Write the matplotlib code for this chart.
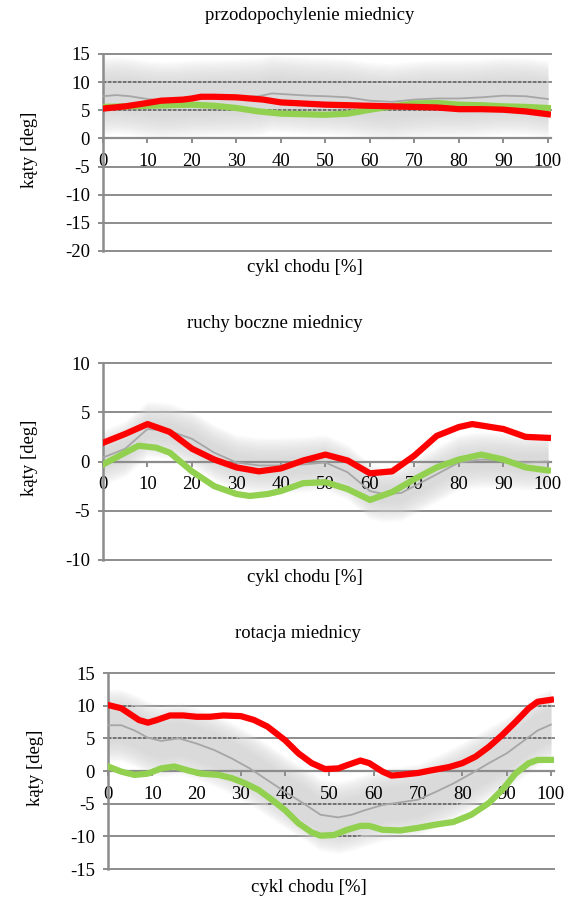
import numpy as np
import matplotlib
matplotlib.use("Agg")
import matplotlib.pyplot as plt
from matplotlib.path import Path

plt.rcParams['font.family'] = ['Liberation Serif', 'DejaVu Serif']
plt.rcParams['axes.unicode_minus'] = False

W, H = 584, 898

# panel 1 - przodopochylenie miednicy
p1_norm_x = [0, 3, 6, 10, 13, 17, 20, 25, 30, 35, 38, 42, 46, 50, 55, 60, 65, 70, 75, 80, 85, 90, 95, 100]
p1_norm = [7.5, 7.7, 7.5, 7.0, 6.8, 6.9, 7.1, 7.2, 7.3, 7.5, 8.0, 7.8, 7.6, 7.5, 7.3, 6.7, 6.5, 6.9, 7.1, 7.1, 7.3, 7.6, 7.5, 7.0]
p1_sd = 4.8
p1_red_x = [0, 5, 10, 13, 18, 20, 22, 25, 30, 33, 36, 40, 45, 50, 55, 60, 65, 70, 75, 80, 85, 90, 95, 100]
p1_red = [5.3, 5.7, 6.3, 6.7, 6.9, 7.1, 7.4, 7.4, 7.3, 7.1, 6.9, 6.4, 6.2, 6.0, 5.9, 5.8, 5.7, 5.6, 5.5, 5.2, 5.2, 5.1, 4.8, 4.3]
p1_green_x = [0, 10, 20, 25, 30, 35, 40, 45, 50, 55, 60, 65, 70, 75, 80, 85, 90, 95, 100]
p1_green = [5.6, 5.8, 6.0, 5.8, 5.4, 4.8, 4.4, 4.3, 4.2, 4.4, 5.1, 5.7, 6.2, 6.3, 6.0, 5.9, 5.7, 5.6, 5.4]

# panel 2 - ruchy boczne miednicy
p2_norm_x = [0, 5, 10, 15, 20, 25, 30, 35, 40, 45, 50, 55, 60, 63, 67, 70, 75, 80, 85, 90, 95, 100]
p2_norm = [0.4, 1.3, 3.3, 3.1, 2.3, 0.9, -0.1, -0.4, -0.4, -0.3, -0.1, -1.1, -3.0, -3.3, -3.2, -2.5, -1.3, -0.1, 0.2, 0.1, -0.1, 0.0]
p2_sd = 1.8
p2_red_x = [0, 5, 10, 15, 20, 25, 30, 35, 40, 45, 50, 55, 60, 65, 70, 75, 80, 83, 90, 95, 100]
p2_red = [1.9, 2.8, 3.8, 3.0, 1.3, 0.2, -0.6, -1.0, -0.7, 0.1, 0.7, 0.1, -1.2, -1.0, 0.6, 2.6, 3.5, 3.8, 3.3, 2.5, 2.4]
p2_green_x = [0, 5, 8, 12, 15, 20, 25, 30, 33, 37, 40, 45, 50, 55, 60, 65, 70, 75, 80, 85, 90, 95, 100]
p2_green = [-0.3, 0.9, 1.6, 1.4, 0.9, -1.0, -2.5, -3.3, -3.5, -3.3, -3.0, -2.2, -2.1, -2.8, -3.9, -3.1, -1.8, -0.6, 0.2, 0.7, 0.2, -0.6, -0.9]

# panel 3 - rotacja miednicy
p3_norm_x = [0, 3, 6, 9, 12, 16, 20, 24, 28, 32, 36, 40, 44, 48, 52, 55, 58, 62, 66, 70, 74, 78, 82, 86, 90, 94, 97, 100]
p3_norm = [7.0, 7.0, 6.2, 5.1, 4.6, 5.0, 4.2, 3.2, 1.9, 0.4, -1.4, -3.2, -4.9, -6.7, -7.1, -6.7, -6.0, -5.2, -4.8, -4.4, -3.2, -1.9, -0.4, 1.2, 2.7, 4.7, 6.2, 7.1]
p3_sd = 4.0
p3_red_x = [0, 3, 7, 9, 11, 14, 17, 20, 23, 26, 30, 33, 36, 40, 43, 46, 49, 52, 54, 57, 59, 62, 64, 66, 70, 73, 77, 80, 83, 86, 89, 92, 95, 97, 100]
p3_red = [10.1, 9.6, 7.8, 7.4, 7.8, 8.5, 8.5, 8.3, 8.3, 8.5, 8.4, 7.8, 6.8, 4.7, 2.7, 1.2, 0.3, 0.4, 0.9, 1.6, 1.2, -0.1, -0.7, -0.6, -0.3, 0.1, 0.6, 1.2, 2.2, 3.7, 5.5, 7.5, 9.6, 10.6, 10.9]
p3_green_x = [0, 3, 6, 9, 12, 15, 18, 21, 25, 28, 31, 34, 37, 40, 43, 46, 48, 51, 54, 57, 59, 62, 66, 70, 74, 78, 82, 86, 89, 92, 95, 97, 100]
p3_green = [0.7, -0.1, -0.6, -0.4, 0.4, 0.7, 0.1, -0.4, -0.6, -1.1, -1.9, -2.9, -4.4, -6.0, -8.0, -9.4, -9.9, -9.8, -9.0, -8.4, -8.4, -9.0, -9.1, -8.7, -8.2, -7.8, -6.7, -4.9, -2.9, -0.4, 1.2, 1.7, 1.7]

xticks = list(range(0, 101, 10))
grid_c = '#8c8c8c'
fs = 13.5


def band(ax, x, m, sd, fade):
    x = np.array(x, dtype=float)
    m = np.array(m, dtype=float)
    n = 12
    for k in range(n):
        e = sd - fade + 2 * fade * k / (n - 1)
        ax.fill_between(x, m - e, m + e, color='#d2d2d2', alpha=0.11, lw=0, zorder=1.5)
    core = sd - 0.2 * fade
    verts = np.concatenate([np.column_stack([x, m + core]),
                            np.column_stack([x[::-1], (m - core)[::-1]])])
    return Path(verts)


def panel(rect, title, tpos, xlpos, ylpos, ylim, yt, nx, nm, sd, fade, gx, gy, rx, ry):
    l, r, t, b = rect
    ax = fig.add_axes([l / W, 1 - b / H, (r - l) / W, (b - t) / H])
    ax.set_xlim(0, 100.7)
    ax.set_ylim(*ylim)
    for v in yt:
        ax.axhline(v, color=grid_c, lw=1.4, zorder=1, clip_on=False)
    clip = band(ax, nx, nm, sd, fade)
    for v in yt:
        if v == 0:
            continue
        ln, = ax.plot([0, 100.7], [v, v], ls=(0, (2, 1)), color='#666666', lw=1.2, zorder=1.8)
        ln.set_clip_path(clip, ax.transData)
    ax.plot(nx, nm, color='#a6a6a6', lw=1.3, zorder=4)
    ax.plot(gx, gy, color='#92d050', lw=4.5, zorder=5, solid_joinstyle='round')
    ax.plot(rx, ry, color='#ff0000', lw=4.5, zorder=6, solid_joinstyle='round')

    for s in ['top', 'right']:
        ax.spines[s].set_visible(False)
    ax.spines['left'].set_color(grid_c)
    ax.spines['left'].set_linewidth(1.8)
    ax.spines['bottom'].set_position(('data', 0))
    ax.spines['bottom'].set_color(grid_c)
    ax.spines['bottom'].set_linewidth(1.6)
    ax.set_yticks(yt)
    ax.set_xticks(xticks)
    ax.tick_params(axis='y', direction='out', length=3.5, width=1.4, color=grid_c,
                   pad=6, labelsize=fs)
    ax.tick_params(axis='x', direction='out', length=3.5, width=1.4, color=grid_c,
                   pad=7, labelsize=fs)
    fig.text(tpos[0] / W, 1 - tpos[1] / H, title, ha='center', va='center', fontsize=fs)
    fig.text(xlpos[0] / W, 1 - xlpos[1] / H, 'cykl chodu [%]', ha='center', va='center', fontsize=fs)
    fig.text(ylpos[0] / W, 1 - ylpos[1] / H, 'kąty [deg]', ha='center', va='center',
             rotation=90, fontsize=fs)
    return ax


fig = plt.figure(figsize=(W / 100, H / 100), dpi=100)

panel((103, 551, 54, 251), 'przodopochylenie miednicy', (310, 15), (305, 267), (30, 150),
      (-20, 15), list(range(-20, 16, 5)), p1_norm_x, p1_norm, p1_sd, 2.0,
      p1_green_x, p1_green, p1_red_x, p1_red)
panel((103, 551, 363, 560), 'ruchy boczne miednicy', (275, 323), (305, 577), (30, 458),
      (-10, 10), list(range(-10, 11, 5)), p2_norm_x, p2_norm, p2_sd, 1.0,
      p2_green_x, p2_green, p2_red_x, p2_red)
panel((108, 554, 673, 869), 'rotacja miednicy', (298, 633), (309, 887), (35, 768),
      (-15, 15), list(range(-15, 16, 5)), p3_norm_x, p3_norm, p3_sd, 1.5,
      p3_green_x, p3_green, p3_red_x, p3_red)

fig.savefig('out.png', dpi=100)
